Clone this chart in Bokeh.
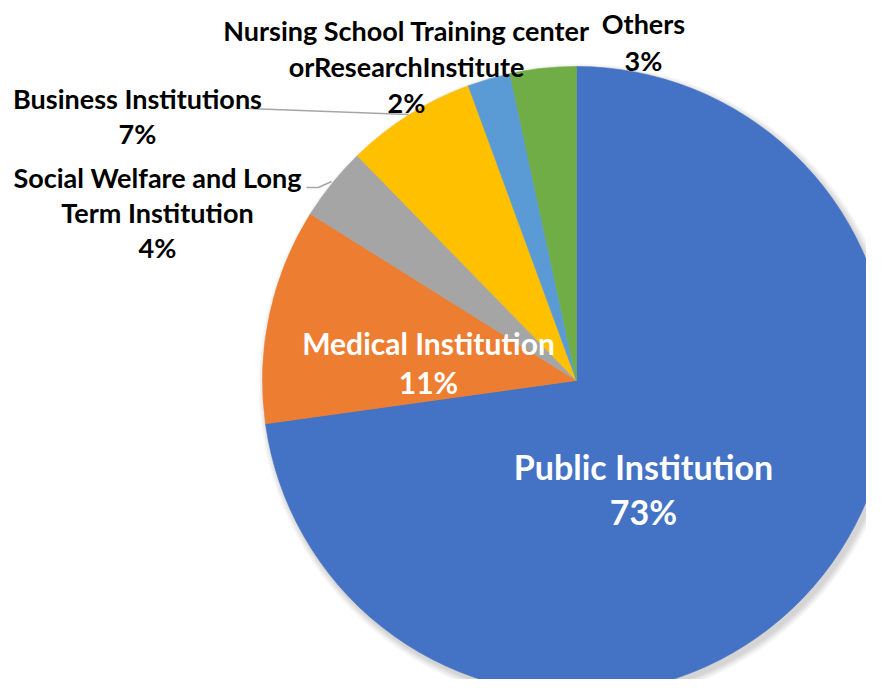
import math
from bokeh.plotting import figure
from bokeh.models import Range1d
from bokeh.core.properties import value
from bokeh.embed import file_html
from bokeh.resources import INLINE

# ---- data (clockwise from 12 o'clock) ----
categories = ["Public Institution", "Medical Institution",
              "Social Welfare and Long\nTerm Institution", "Business Institutions",
              "Nursing School Training center\norResearchInstitute", "Others"]
shares = [72.8, 11.1, 3.8, 6.7, 2.2, 3.4]
colors = ["#4472C4", "#ED7D31", "#A5A5A5", "#FFC000", "#5B9BD5", "#70AD47"]

# ---- layout ----
W, H = 866, 679
FULL_H = 695
CX, CY, R = 576, FULL_H - 380, 314
FONT = "Lato"

p = figure(width=W, height=H, output_backend="svg", toolbar_location=None,
           x_range=Range1d(0, W), y_range=Range1d(FULL_H - H, FULL_H),
           min_border=0, tools="")
p.axis.visible = False
p.grid.visible = False
p.outline_line_color = None
p.background_fill_color = "white"
p.border_fill_color = "white"

# soft shadow
for i in range(7):
    p.circle(x=[CX + 3], y=[CY - 4], radius=R + 1 + i, radius_units="data",
             fill_color="black", fill_alpha=0.025, line_color=None)

total = sum(shares)
starts, ends = [], []
cum = 0.0
for s in shares:
    starts.append(math.pi / 2 - 2 * math.pi * cum / total)
    cum += s
    ends.append(math.pi / 2 - 2 * math.pi * cum / total)

p.wedge(x=[CX] * len(shares), y=[CY] * len(shares), radius=R,
        start_angle=starts, end_angle=ends, direction="clock",
        fill_color=colors, line_color=colors, line_width=0.6)


def sy(y):
    return FULL_H - y


# leader lines
p.line(x=[247, 408], y=[sy(108), sy(114)], line_color="#A6A6A6", line_width=1.5)
p.line(x=[306, 318, 331], y=[sy(187), sy(187), sy(181)], line_color="#A6A6A6", line_width=1.5)

pct = [f"{round(s / total * 100)}%" for s in shares]

# label anchor positions (screen coords), line height, colour, font size
label_pos = [(643, 466, 45, "white", 34), (428, 342, 39, "white", 30),
             (157, 177, 35, "black", 27), (137, 98, 35, "black", 27),
             (406, 30, 36, "black", 27), (643, 23, 37, "black", 27)]

for cat, pc, (lx, ly, lh, col, fs) in zip(categories, pct, label_pos):
    lines = cat.split("\n") + [pc]
    xs = [lx] * len(lines)
    ys = [sy(ly + k * lh) for k in range(len(lines))]
    p.text(x=xs, y=ys, text=lines, text_font=value(FONT), text_font_style="bold",
           text_font_size=value(f"{fs}px"), text_color=col,
           text_align="center", text_baseline="middle")

open("out.html", "w").write(file_html(p, INLINE))
